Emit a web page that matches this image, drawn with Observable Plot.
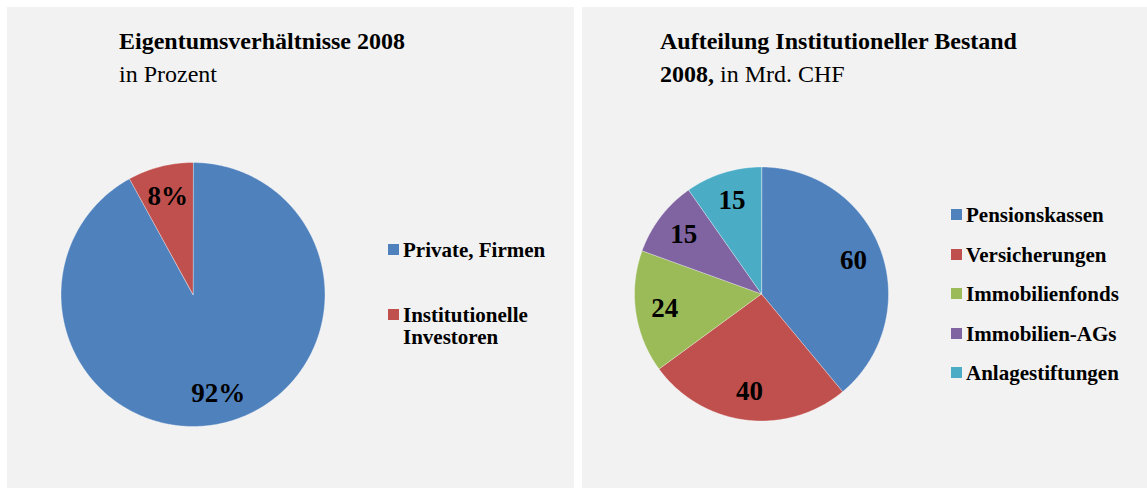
<!DOCTYPE html>
<html>
<head>
<meta charset="utf-8">
<script src="https://cdn.jsdelivr.net/npm/d3@7"></script>
<script src="https://cdn.jsdelivr.net/npm/@observablehq/plot@0.6"></script>
<style>
  html, body { margin: 0; padding: 0; background: #ffffff; }
  body { width: 1147px; height: 488px; position: relative; overflow: hidden; font-family: "Liberation Serif", "Times New Roman", serif; color: #000; }
  .panel { position: absolute; top: 7px; height: 481px; background: #f2f2f2; }
  .panel svg { position: absolute; left: 0; top: 0; }
  .title { position: absolute; font-size: 24px; line-height: 33px; white-space: nowrap; }
  .title b { font-weight: bold; }
  .legend-item { position: absolute; display: flex; align-items: flex-start; font-size: 21px; line-height: 22px; font-weight: bold; }
  .legend-item .sw { width: 11px; height: 11px; margin-top: 5px; margin-right: 4px; flex: none; }
</style>
</head>
<body>
<div id="p1" class="panel" style="left:7px;width:567px;"></div>
<div id="p2" class="panel" style="left:582px;width:565px;"></div>
<script>
// ---- Data ----
const ownerCategories = ["Private, Firmen", "Institutionelle Investoren"];
const ownerValues = [92, 8];
const ownerColors = ["#4f81bd", "#c0504d"];

const instCategories = ["Pensionskassen", "Versicherungen", "Immobilienfonds", "Immobilien-AGs", "Anlagestiftungen"];
const instValues = [60, 40, 24, 15, 15];
const instColors = ["#4f81bd", "#c0504d", "#9bbb59", "#8064a2", "#4bacc6"];

const FONT = "Liberation Serif, Times New Roman, serif";

function pieChart({cats, values, colors, width, height, cx, cy, r, suffix}) {
  const arcs = d3.pie().sort(null).value(d => d)(values);
  const poly = [];
  const labels = [];
  arcs.forEach((a, i) => {
    const cat = cats[i];
    poly.push({cat, x: 0, y: 0});
    const n = Math.max(2, Math.ceil((a.endAngle - a.startAngle) / (Math.PI / 360)));
    for (let k = 0; k <= n; k++) {
      const t = a.startAngle + (a.endAngle - a.startAngle) * k / n;
      poly.push({cat, x: Math.sin(t), y: Math.cos(t)});
    }
    const m = (a.startAngle + a.endAngle) / 2;
    labels.push({x: 0.77 * Math.sin(m), y: 0.77 * Math.cos(m), label: values[i] + suffix});
  });
  return Plot.plot({
    width, height,
    margin: 0,
    x: {domain: [-1, 1], range: [cx - r, cx + r], axis: null},
    y: {domain: [-1, 1], range: [cy + r, cy - r], axis: null},
    color: {domain: cats, range: colors},
    style: {background: "transparent", overflow: "visible"},
    marks: [
      Plot.line(poly, {x: "x", y: "y", z: "cat", fill: "cat", stroke: "#ffffff", strokeWidth: 0.6, strokeOpacity: 0.6, curve: "linear-closed"}),
      Plot.text(labels, {x: "x", y: "y", text: "label", fontSize: 27, fontWeight: "bold", fontFamily: FONT, fill: "#000"})
    ]
  });
}

function addTitle(panel, html, left, top) {
  const t = document.createElement("div");
  t.className = "title";
  t.style.left = left + "px";
  t.style.top = top + "px";
  t.innerHTML = html;
  panel.appendChild(t);
}

function addLegend(panel, cats, colors, left, tops, textWidth) {
  cats.forEach((c, i) => {
    const it = document.createElement("div");
    it.className = "legend-item";
    it.style.left = left + "px";
    it.style.top = tops[i] + "px";
    const sw = document.createElement("span");
    sw.className = "sw";
    sw.style.background = colors[i];
    const tx = document.createElement("span");
    tx.textContent = c;
    tx.style.width = textWidth + "px";
    it.appendChild(sw);
    it.appendChild(tx);
    panel.appendChild(it);
  });
}

// ---- Panel 1 ----
const p1 = document.getElementById("p1");
p1.appendChild(pieChart({cats: ownerCategories, values: ownerValues, colors: ownerColors,
  width: 567, height: 481, cx: 185.5, cy: 287, r: 132, suffix: "%"}));
addTitle(p1, "<b>Eigentumsverhältnisse 2008</b><br>in Prozent", 112, 18);
addLegend(p1, ownerCategories, ownerColors, 381, [232, 297], 150);

// ---- Panel 2 ----
const p2 = document.getElementById("p2");
p2.appendChild(pieChart({cats: instCategories, values: instValues, colors: instColors,
  width: 565, height: 481, cx: 179, cy: 286.5, r: 127, suffix: ""}));
addTitle(p2, "<b>Aufteilung Institutioneller Bestand</b><br><b>2008,</b> in Mrd. CHF", 78, 18);
addLegend(p2, instCategories, instColors, 369, [197, 236.5, 276, 315.5, 355], 185);
</script>
</body>
</html>
